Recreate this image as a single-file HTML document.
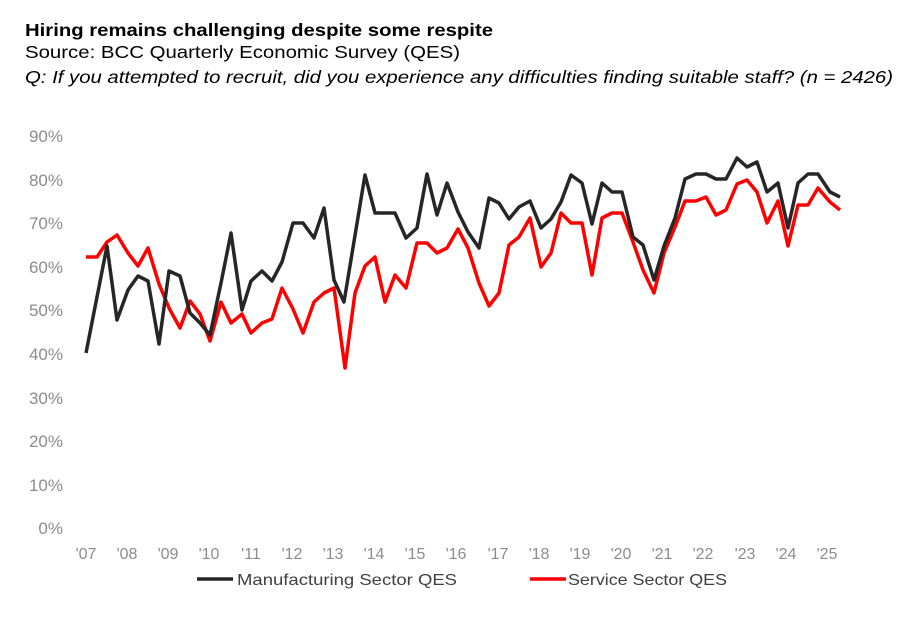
<!DOCTYPE html>
<html><head><meta charset="utf-8"><style>
body{margin:0;background:#fff;width:904px;height:622px;overflow:hidden;font-family:"Liberation Sans",Arial,sans-serif}
</style></head><body>
<svg width="904" height="622" style="position:absolute;left:0;top:0" font-family="Liberation Sans, Arial, sans-serif">
<text x="25" y="36" font-size="17.5" font-weight="bold" textLength="468" lengthAdjust="spacingAndGlyphs">Hiring remains challenging despite some respite</text>
<text x="25" y="58" font-size="17.5" textLength="435" lengthAdjust="spacingAndGlyphs">Source: BCC Quarterly Economic Survey (QES)</text>
<text x="25" y="83" font-size="17.5" font-style="italic" textLength="868" lengthAdjust="spacingAndGlyphs">Q: If you attempted to recruit, did you experience any difficulties finding suitable staff? (n = 2426)</text>
<g font-size="17" fill="#8c8c8c" text-anchor="end">
<text x="63" y="142">90%</text><text x="63" y="186">80%</text><text x="63" y="229">70%</text>
<text x="63" y="273">60%</text><text x="63" y="316">50%</text><text x="63" y="360">40%</text>
<text x="63" y="404">30%</text><text x="63" y="447">20%</text><text x="63" y="491">10%</text>
<text x="63" y="534">0%</text>
</g>
<g font-size="16" fill="#8c8c8c" text-anchor="middle">
<text x="86" y="559">'07</text><text x="127" y="559">'08</text><text x="168" y="559">'09</text>
<text x="209" y="559">'10</text><text x="251" y="559">'11</text><text x="292" y="559">'12</text>
<text x="333" y="559">'13</text><text x="374" y="559">'14</text><text x="415" y="559">'15</text>
<text x="456" y="559">'16</text><text x="498" y="559">'17</text><text x="539" y="559">'18</text>
<text x="580" y="559">'19</text><text x="621" y="559">'20</text><text x="662" y="559">'21</text>
<text x="703" y="559">'22</text><text x="745" y="559">'23</text><text x="786" y="559">'24</text>
<text x="827" y="559">'25</text>
</g>
<polyline fill="none" stroke="#ff0000" stroke-width="3.5" stroke-linejoin="round" points="86,257 97,257 107,242 117,235 128,253 138,266 148,248 159,284 169,308 180,328 190,301 200,314 210,341 221,302 231,323 242,314 251,333 262,323 272,319 282,288 293,309 303,333 314,302 324,293 334,288 345,368 355,293 365,266 375,257 385,302 395,275 406,288 417,243 427,243 437,253 447,248 458,229 468,248 479,283 489,306 499,293 509,245 519,237 530,218 541,267 551,253 561,213 571,223 582,223 592,275 602,218 612,213 622,213 633,242 643,270 654,293 664,253 675,227 685,201 696,201 706,197 716,215 726,210 737,184 747,180 757,192 767,223 778,201 788,246 798,205 808,205 818,188 830,202 840,210"/>
<polyline fill="none" stroke="#262626" stroke-width="3.5" stroke-linejoin="round" points="86,353 107,246 117,320 128,290 138,276 148,281 159,344 169,271 180,276 190,313 200,323 210,335 221,283 231,233 242,310 251,281 262,271 272,281 282,262 293,223 303,223 314,238 324,208 334,280 344,302 365,175 375,213 385,213 395,213 406,238 417,228 427,174 437,215 447,183 458,212 468,232 479,248 489,198 499,203 509,219 519,207 530,201 541,228 551,219 561,202 571,175 582,183 592,224 602,183 612,192 622,192 633,237 643,245 654,280 664,246 675,218 685,179 696,174 706,174 716,179 726,179 737,158 747,167 757,162 767,192 778,183 788,228 798,183 808,174 818,174 830,192 840,197"/>
<line x1="197" y1="579" x2="233" y2="579" stroke="#262626" stroke-width="3.5"/>
<text x="237" y="585" font-size="16" fill="#404040" textLength="220" lengthAdjust="spacingAndGlyphs">Manufacturing Sector QES</text>
<line x1="530" y1="579" x2="566" y2="579" stroke="#ff0000" stroke-width="3.5"/>
<text x="568" y="585" font-size="16" fill="#404040" textLength="159" lengthAdjust="spacingAndGlyphs">Service Sector QES</text>
</svg>
</body></html>
